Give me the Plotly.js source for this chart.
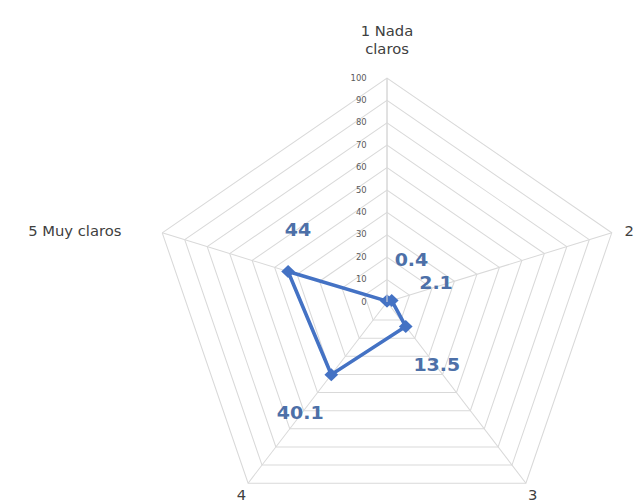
<!DOCTYPE html>
<html><head><meta charset="utf-8">
<script src="https://cdn.plot.ly/plotly-3.0.1.min.js"></script>
<style>html,body{margin:0;padding:0;overflow:hidden;background:#fff;width:638px;height:503px}
#c{width:638px;height:560px;transform:scaleX(1.055);transform-origin:387px 0}</style>
</head><body><div id="c"></div>
<script>
const categories = ["1 Nada claros", "2", "3", "4", "5 Muy claros"];
const categoryLabels = ["1 Nada<br>claros<br>\u00a0", "\u00a0\u00a02", "3", "4", "5 Muy claros\u00a0\u00a0\u00a0\u00a0\u00a0\u00a0\u00a0\u00a0"];
const values = [0.4, 2.1, 13.5, 40.1, 44];
const labels = ["0.4<br> ", "\u00a0\u00a0\u00a02.1", "<br>13.5", "<br>40.1", "\u00a0\u00a0\u00a044<br> "];
const labelPos = ["top right", "top right", "bottom right", "bottom left", "top center"];
const radialTicks = [0,10,20,30,40,50,60,70,80,90,100];

const W = 638, H = 560, cx = 387, cy = 302, R = 224;
const trace = {
  type: 'scatterpolar',
  r: values.concat([values[0]]),
  theta: categories.concat([categories[0]]),
  mode: 'lines+markers+text',
  text: labels.concat([""]),
  textposition: labelPos.concat(["top right"]),
  textfont: {family: 'DejaVu Sans, sans-serif', size: 18, color: '#4d70a8', weight: 'bold'},
  line: {color: '#4472C4', width: 3.5},
  marker: {symbol: 'diamond', size: 10, color: '#4472C4'},
  cliponaxis: false,
  hoverinfo: 'skip'
};
const layout = {
  width: W, height: H,
  margin: {l:0, r:0, t:0, b:0},
  showlegend: false,
  paper_bgcolor: '#fff',
  polar: {
    domain: {x: [(cx-R)/W, (cx+R)/W], y: [(H-cy-R)/H, (H-cy+R)/H]},
    gridshape: 'linear',
    bgcolor: '#fff',
    radialaxis: {
      range: [0, 100], tickvals: radialTicks, ticktext: radialTicks.map(String),
      angle: 90, tickangle: 90, side: 'counterclockwise',
      showline: true, linecolor: '#d9d9d9', linewidth: 1,
      gridcolor: '#d9d9d9', gridwidth: 1,
      ticks: 'outside', ticklen: 16, tickcolor: 'rgba(0,0,0,0)',
      tickfont: {family: 'DejaVu Sans, sans-serif', size: 8, color: '#595959'}
    },
    angularaxis: {
      type: 'category',
      rotation: 90, direction: 'clockwise',
      categoryarray: categories, categoryorder: 'array',
      tickmode: 'array', tickvals: categories, ticktext: categoryLabels,
      showline: true, linecolor: '#d9d9d9', linewidth: 1,
      gridcolor: '#d9d9d9', ticks: '',
      tickfont: {family: 'DejaVu Sans, sans-serif', size: 14, color: '#404040'}
    }
  }
};
Plotly.newPlot('c', [trace], layout, {displayModeBar: false, staticPlot: true});
</script></body></html>
